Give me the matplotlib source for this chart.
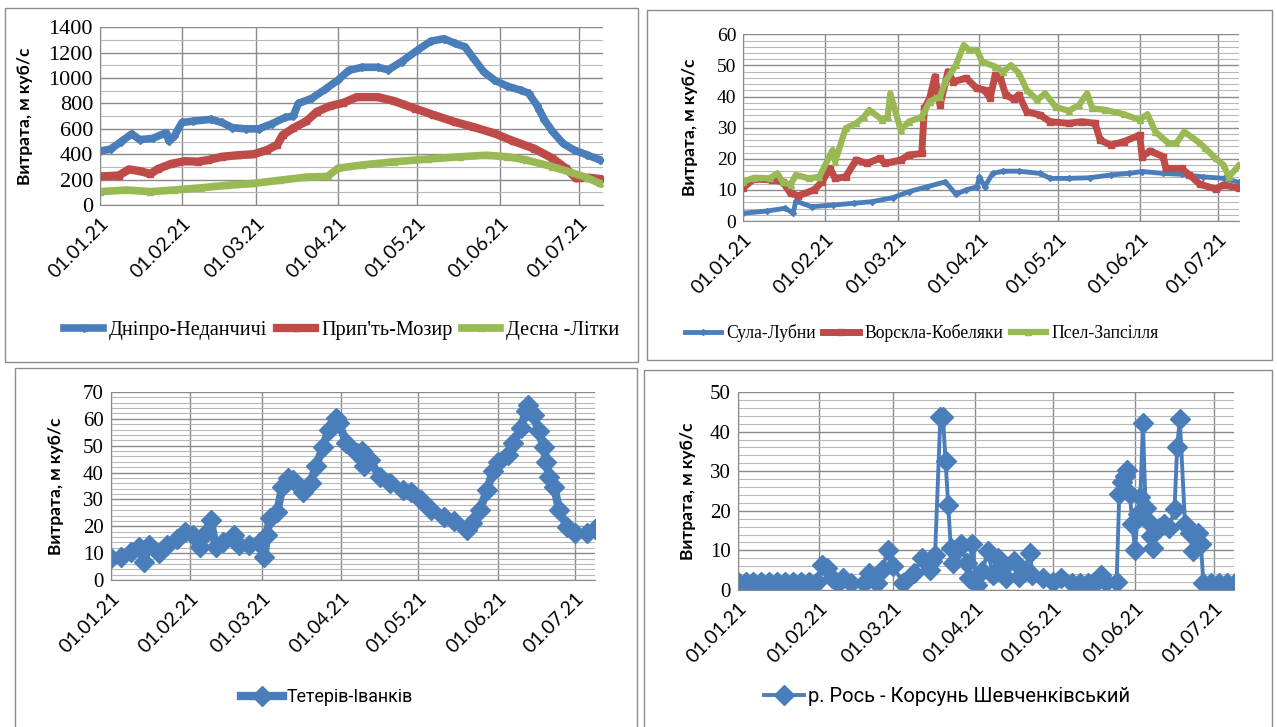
import matplotlib
matplotlib.use("Agg")
import matplotlib.pyplot as plt
from matplotlib.ticker import MultipleLocator
from matplotlib.patches import Rectangle
import pandas as pd

# ====================== дані (доба від 01.01.21, витрата м куб/с) ======================
START = pd.Timestamp("2021-01-01")

dnipro_days = [0, 4, 8, 12, 15, 20, 25, 26, 28, 31, 35, 42, 46, 50, 55, 60, 65, 70, 73, 75, 80, 85,
               90, 94, 99, 105, 109, 114, 120, 125, 130, 134, 138, 141, 145, 149, 154, 159, 162,
               165, 166, 168, 171, 175, 179, 184, 189]
dnipro_vals = [425, 440, 500, 560, 515, 525, 570, 505, 540, 650, 660, 675, 650, 610, 600, 600, 640,
               690, 700, 800, 840, 910, 985, 1060, 1085, 1085, 1065, 1130, 1220, 1290, 1310, 1275,
               1245, 1160, 1050, 985, 935, 905, 880, 790, 750, 670, 580, 485, 435, 395, 355]

prypiat_days = [0, 7, 11, 15, 19, 22, 27, 32, 37, 41, 46, 52, 58, 63, 67, 69, 73, 78, 82, 87, 92,
                97, 105, 111, 119, 126, 134, 141, 149, 156, 164, 171, 176, 180, 185, 189]
prypiat_vals = [225, 232, 280, 268, 245, 285, 325, 345, 342, 355, 380, 392, 400, 432, 475, 550, 605,
                660, 735, 780, 805, 850, 850, 820, 760, 710, 655, 615, 565, 505, 445, 368, 290,
                210, 215, 205]

desna_days = [0, 10, 19, 28, 38, 48, 58, 68, 78, 86, 90, 99, 111, 124, 136, 146, 154, 161, 171,
              179, 184, 189]
desna_vals = [105, 118, 105, 118, 135, 155, 170, 195, 220, 225, 290, 315, 340, 362, 380, 392, 380,
              355, 302, 250, 215, 170]

sula_days = [0, 9, 16, 19, 20, 26, 34, 42, 49, 57, 63, 70, 77, 81, 85, 89, 90, 92, 95, 99, 105,
             113, 117, 124, 132, 140, 147, 152, 160, 167, 175, 183, 189]
sula_vals = [2.5, 3.2, 4.1, 2.5, 6.4, 4.6, 5.1, 5.7, 6.2, 7.5, 9.4, 11, 12.6, 8.6, 10, 11, 14.2,
             11, 15.3, 16, 16, 15.3, 13.7, 13.7, 13.9, 14.8, 15.3, 15.9, 15.3, 15, 14.2, 13.7, 12.4]

vorskla_days = [0, 4, 11, 15, 18, 21, 27, 30, 33, 35, 39, 43, 47, 52, 54, 60, 63, 68, 69, 71, 73,
                74, 75, 78, 80, 85, 89, 92, 94, 96, 98, 100, 103, 105, 108, 113, 117, 124, 129,
                134, 136, 140, 145, 151, 152, 155, 160, 161, 167, 170, 174, 180, 183, 189]
vorskla_vals = [10.7, 13.5, 13.2, 12.6, 8.9, 8.1, 10, 12.6, 16.9, 13.7, 14.2, 19.6, 18.5, 20.1,
                18.5, 19.6, 21.2, 21.7, 36.2, 39.4, 46.4, 41.6, 37.3, 48, 44.8, 45.9, 42.6, 42.1,
                39.4, 46.9, 45.9, 40.5, 39.2, 40.5, 35.1, 34.1, 31.9, 31.4, 31.9, 31.4, 26, 24.4,
                25.5, 27.6, 20.7, 22.5, 20.7, 16.9, 16.9, 14.8, 11.8, 10.3, 11.6, 10.5]

psel_days = [0, 4, 10, 13, 15, 18, 20, 25, 29, 34, 35, 39, 43, 46, 48, 53, 55, 56, 60, 63, 68, 71,
             75, 77, 81, 84, 86, 89, 91, 96, 99, 102, 105, 108, 112, 115, 119, 124, 128, 131, 133,
             138, 145, 151, 154, 157, 162, 165, 168, 174, 176, 180, 183, 185, 189]
psel_vals = [12.6, 13.9, 13.7, 15.3, 12.6, 11.6, 14.8, 13.7, 14.2, 22.8, 19.1, 29.8, 31.4, 33.5,
             35.7, 32.5, 33.5, 41, 29.2, 31.9, 33.5, 38.4, 40, 44.8, 50.1, 56.5, 55, 55, 51.2,
             49.6, 48, 50.1, 47.5, 42.1, 38.9, 41, 36.7, 35.4, 37.3, 41, 36.2, 35.7, 34.3, 32.5,
             34.3, 28.7, 25, 25, 28.7, 25, 23.4, 20.1, 18, 14.2, 18]

teteriv_days = [0, 4, 8, 11, 13, 15, 19, 22, 26, 29, 32, 35, 37, 39, 41, 44, 48, 50, 54, 58, 60,
                61, 62, 65, 67, 69, 71, 75, 78, 80, 83, 85, 88, 89, 92, 96, 98, 99, 101, 105, 109,
                114, 117, 121, 125, 130, 134, 139, 141, 144, 147, 149, 151, 155, 157, 160, 162,
                163, 165, 167, 169, 170, 171, 173, 175, 178, 181, 186, 189]
teteriv_vals = [8.1, 8.7, 10.6, 12.4, 6.8, 13.1, 9.9, 13.1, 15.2, 18, 16.8, 12.4, 17.4, 22.4, 12.4,
                14.3, 16.8, 13.1, 13.1, 13.7, 8.7, 16.8, 23, 25.5, 34.8, 37.9, 37.3, 32.9, 36.1,
                42.3, 49.7, 56, 60.5, 58.4, 51, 47.2, 47.9, 42.3, 44.8, 38.5, 36.1, 33.6, 32.9,
                29.8, 26.1, 23.6, 21.8, 18.6, 21.1, 26.1, 33.6, 40.4, 44.1, 46.6, 51, 56.6, 62.8,
                65.3, 61.5, 55.3, 49.7, 44.1, 38.5, 34.8, 26.1, 19.9, 17.4, 17.4, 18.9]

ros_days = [0, 3, 6, 9, 12, 15, 18, 21, 24, 27, 30, 32, 34, 36, 38, 40, 43, 48, 50, 53, 55, 57, 59,
            63, 67, 70, 73, 74, 75, 77, 78, 79, 80, 81, 82, 84, 85, 87, 88, 89, 91, 93, 95, 97,
            99, 100, 102, 105, 107, 109, 111, 112, 116, 120, 123, 127, 130, 133, 136, 138, 140,
            144, 145, 146, 147, 148, 149, 150, 151, 152, 153, 154, 155, 156, 157, 158, 160, 162,
            164, 166, 167, 168, 170, 172, 173, 175, 176, 177, 180, 183, 186, 189]
ros_vals = [2, 2, 2, 2, 2, 2, 2, 2, 2, 2, 2, 6.4, 5.5, 3, 1.7, 3, 1.7, 1.7, 4.3, 1.7, 5.1, 10.2, 6,
            1.7, 4.3, 8.1, 5.1, 7.2, 8.9, 43.6, 43.6, 32.5, 21.4, 10.6, 6.8, 10.6, 11.5, 6.8, 3,
            11.5, 1.3, 4.7, 9.8, 3.8, 8.1, 6, 3, 7.2, 3.4, 4.7, 9.4, 3.8, 3, 2.1, 3.1, 1.7, 1.7,
            1.7, 2, 3.8, 2.1, 2.1, 24.2, 27.2, 28.9, 30.2, 24.2, 16.6, 10.2, 19.1, 23.4, 42.1,
            20.8, 17.4, 13.6, 10.6, 15.7, 16.6, 15.7, 20.4, 36.1, 43.1, 16.6, 14.5, 9.8, 14.5,
            11.5, 1.7, 1.7, 1.7, 1.7, 1.7]

month_labels = ["01.01.21", "01.02.21", "01.03.21", "01.04.21", "01.05.21", "01.06.21", "01.07.21"]

BLUE = "#4A7EBB"
RED = "#BE4B48"
GREEN = "#98B954"
W, H = 1277, 727


def to_dates(days):
    return START + pd.to_timedelta(days, unit="D")


def px_axes(fig, x0, y0, x1, y1):
    """осі за піксельними координатами (верх-низ)"""
    return fig.add_axes([x0 / W, 1 - y1 / H, (x1 - x0) / W, (y1 - y0) / H])


def style_axes(ax, ymax, ystep, yminor, xend, label_x, ysize, xsize):
    ax.set_ylim(0, ymax)
    ax.set_xlim(START, START + pd.Timedelta(days=xend))
    ax.yaxis.set_major_locator(MultipleLocator(ystep))
    ax.yaxis.set_minor_locator(MultipleLocator(yminor))
    ticks = pd.to_datetime(["2021-%02d-01" % m for m in range(1, 8)])
    ax.set_xticks(ticks)
    ax.set_xticklabels(month_labels, rotation=45, ha="right", rotation_mode="anchor",
                       family=["Lato", "DejaVu Sans"], fontsize=xsize)
    for t in ax.get_yticklabels():
        t.set_family("Liberation Serif")
        t.set_fontsize(ysize)
    ax.tick_params(axis="both", which="both", length=0)
    ax.tick_params(axis="x", pad=7)
    ax.tick_params(axis="y", pad=5)
    ax.set_axisbelow(True)
    ax.grid(which="major", color="#8a8a8a", lw=1.0)
    ax.grid(which="minor", axis="y", color="#b8b8b8", lw=0.8)
    for s in ("top", "right"):
        ax.spines[s].set_visible(False)
    for s in ("left", "bottom"):
        ax.spines[s].set_color("#8a8a8a")
    ax.set_ylabel("Витрата, м куб/с", fontsize=12.5, fontweight="bold",
                  family=["Lato", "DejaVu Sans"])
    ax.yaxis.set_label_coords(label_x, 0.5)


fig = plt.figure(figsize=(W / 100, H / 100), dpi=100)

# рамки панелей
for (x0, y0, x1, y1) in [(5, 8, 638, 362), (647, 10, 1272, 360),
                         (15, 368, 637, 740), (644, 370, 1272, 740)]:
    fig.patches.append(Rectangle((x0 / W, 1 - y1 / H), (x1 - x0) / W, (y1 - y0) / H,
                                 transform=fig.transFigure, fill=False,
                                 edgecolor="#8c8c8c", lw=1.0))

# ---- панель 1
ax1 = px_axes(fig, 100, 27.3, 602.7, 205)
ax1.plot(to_dates(dnipro_days), dnipro_vals, color=BLUE, lw=5.5, marker="D", ms=4.5,
         label="Дніпро-Неданчичі")
ax1.plot(to_dates(prypiat_days), prypiat_vals, color=RED, lw=6, marker="s", ms=5,
         label="Прип'ть-Мозир")
ax1.plot(to_dates(desna_days), desna_vals, color=GREEN, lw=5.5, marker="^", ms=5,
         label="Десна -Літки")
style_axes(ax1, 1400, 200, 100, 190, -0.133, 16, 14)
fig.legend(*ax1.get_legend_handles_labels(), loc="center", ncol=3,
           bbox_to_anchor=(342 / W, 1 - 330 / H), frameon=False,
           prop={"family": "Liberation Serif", "size": 14.6},
           handlelength=1.9, handletextpad=0.3, columnspacing=0.45)

# ---- панель 2
ax2 = px_axes(fig, 743.3, 34.3, 1239.3, 221)
ax2.plot(to_dates(sula_days), sula_vals, color=BLUE, lw=3.5, marker="D", ms=3,
         label="Сула-Лубни")
ax2.plot(to_dates(vorskla_days), vorskla_vals, color=RED, lw=5, marker="s", ms=5,
         label="Ворскла-Кобеляки")
ax2.plot(to_dates(psel_days), psel_vals, color=GREEN, lw=4.5, marker="^", ms=5,
         label="Псел-Запсілля")
style_axes(ax2, 60, 10, 2, 189, -0.091, 14, 14)
fig.legend(*ax2.get_legend_handles_labels(), loc="center", ncol=3,
           bbox_to_anchor=(922 / W, 1 - 333 / H), frameon=False,
           prop={"family": "Liberation Serif", "size": 12.7},
           handlelength=2.0, handletextpad=0.3, columnspacing=0.45)

# ---- панель 3
ax3 = px_axes(fig, 110.7, 392, 595, 580)
ax3.plot(to_dates(teteriv_days), teteriv_vals, color=BLUE, lw=6, marker="D", ms=10,
         label="Тетерів-Іванків")
style_axes(ax3, 70, 10, 2, 189, -0.096, 15, 14)
fig.legend(*ax3.get_legend_handles_labels(), loc="center",
           bbox_to_anchor=(327 / W, 1 - 697 / H), frameon=False,
           prop={"family": ["Roboto", "DejaVu Sans"], "size": 12.8},
           handlelength=2.4, handletextpad=0.2)

# ---- панель 4
ax4 = px_axes(fig, 737.7, 392, 1234, 590)
ax4.plot(to_dates(ros_days), ros_vals, color=BLUE, lw=2.8, marker="D", ms=10,
         label="р. Рось - Корсунь Шевченківський")
style_axes(ax4, 50, 10, 2, 188.6, -0.084, 15, 14)
fig.legend(*ax4.get_legend_handles_labels(), loc="center",
           bbox_to_anchor=(947 / W, 1 - 697 / H), frameon=False,
           prop={"family": ["Roboto", "DejaVu Sans"], "size": 14.5},
           handlelength=2.0, handletextpad=0.2)

fig.savefig("out.png", dpi=100)
